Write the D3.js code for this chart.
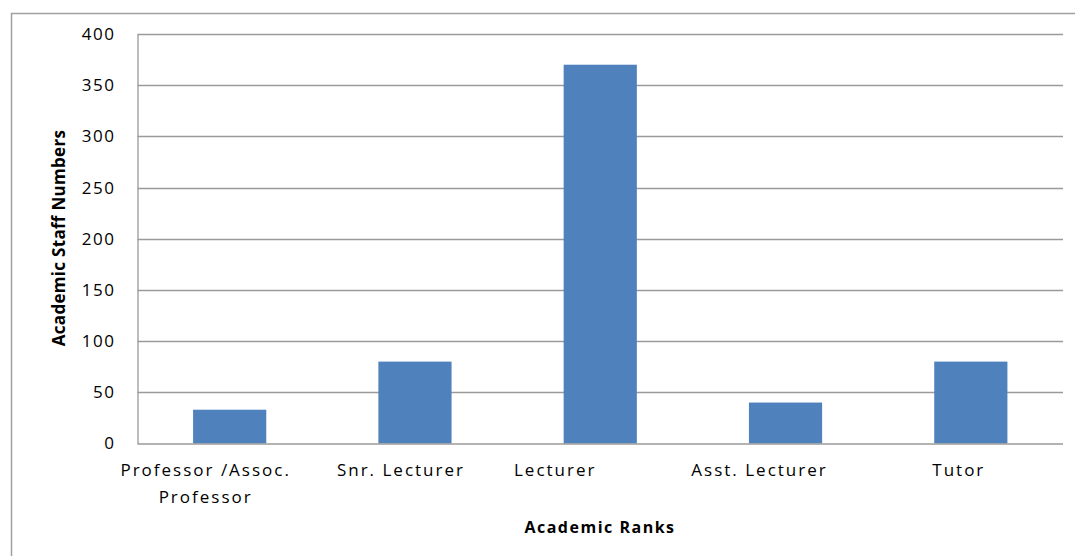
<!DOCTYPE html>
<html>
<head>
<meta charset="utf-8">
<script src="https://cdn.jsdelivr.net/npm/d3@7"></script>
<style>
  body { margin: 0; background: #fff; }
  text { font-family: "Open Sans", "DejaVu Sans", sans-serif; fill: #000; }
</style>
</head>
<body>
<div id="chart"></div>
<script>
// data
var ranks = [["Professor /Assoc.", "Professor"], ["Snr. Lecturer"], ["Lecturer"], ["Asst. Lecturer"], ["Tutor"]];
var staff = [33, 80, 370, 40, 80];
var yTicks = [0, 50, 100, 150, 200, 250, 300, 350, 400];

var w = 1075, h = 556;
var padLeft = 137.5, padRight = 1063, padTop = 34, padBottom = 443.5;
// the original's category labels sit a little left of their bars
var labelNudge = [-24, -14, -45, -26, -12];

var svg = d3.select("#chart").append("svg")
    .attr("width", w)
    .attr("height", h);

// outer chart border (right/bottom are cut off in the original)
svg.append("path")
    .attr("d", "M11.5," + h + "V13.5H" + w)
    .attr("fill", "none")
    .attr("stroke", "#a0a0a0")
    .attr("stroke-width", 1.5);

var x = d3.scaleBand()
    .domain(d3.range(ranks.length))
    .range([padLeft, padRight])
    .paddingInner(0.605)
    .paddingOuter(0.3);

var y = d3.scaleLinear()
    .domain([0, 400])
    .range([padBottom, padTop]);

// gridlines
svg.append("g")
    .selectAll("line")
    .data(yTicks.slice(1))
    .enter().append("line")
    .attr("x1", padLeft)
    .attr("x2", padRight)
    .attr("y1", function(d) { return Math.round(y(d)) + 0.5; })
    .attr("y2", function(d) { return Math.round(y(d)) + 0.5; })
    .attr("stroke", "#9a9a9a")
    .attr("stroke-width", 1.3);

// bars
svg.append("g")
    .selectAll("rect")
    .data(staff)
    .enter().append("rect")
    .attr("x", function(d, i) { return x(i); })
    .attr("y", function(d) { return y(d); })
    .attr("width", x.bandwidth())
    .attr("height", function(d) { return padBottom - y(d); })
    .attr("fill", "#4f81bd");

// y axis
var yAxis = d3.axisLeft(y)
    .tickValues(yTicks)
    .tickSize(0)
    .tickPadding(22);

var gy = svg.append("g")
    .attr("transform", "translate(" + padLeft + ",0)")
    .call(yAxis);
gy.select(".domain").attr("stroke", "#9a9a9a").attr("stroke-width", 1.3);
gy.selectAll("text")
    .attr("font-size", "17px")
    .style("letter-spacing", "1.5px")
    .attr("font-family", null);

// baseline
svg.append("line")
    .attr("x1", padLeft)
    .attr("x2", padRight)
    .attr("y1", padBottom + 0.5)
    .attr("y2", padBottom + 0.5)
    .attr("stroke", "#9a9a9a")
    .attr("stroke-width", 1.5);

// x labels
var xl = svg.append("g")
    .selectAll("text")
    .data(ranks)
    .enter().append("text")
    .attr("x", function(d, i) { return x(i) + x.bandwidth() / 2 + labelNudge[i]; })
    .attr("y", 476)
    .attr("text-anchor", "middle")
    .attr("font-size", "17px")
    .style("letter-spacing", "2px");
xl.selectAll("tspan")
    .data(function(d) { return d; })
    .enter().append("tspan")
    .attr("x", function() { return d3.select(this.parentNode).attr("x"); })
    .attr("dy", function(d, i) { return i ? 27 : 0; })
    .text(function(d) { return d; });

// axis titles
svg.append("text")
    .attr("x", 600)
    .attr("y", 533)
    .attr("text-anchor", "middle")
    .attr("font-size", "16px")
    .attr("font-weight", "bold")
    .style("letter-spacing", "1.5px")
    .text("Academic Ranks");

svg.append("text")
    .attr("transform", "translate(65,238) rotate(-90)")
    .attr("text-anchor", "middle")
    .attr("font-size", "17px")
    .attr("font-weight", "bold")
    .style("letter-spacing", "0.3px")
    .text("Academic Staff Numbers");
</script>
</body>
</html>
